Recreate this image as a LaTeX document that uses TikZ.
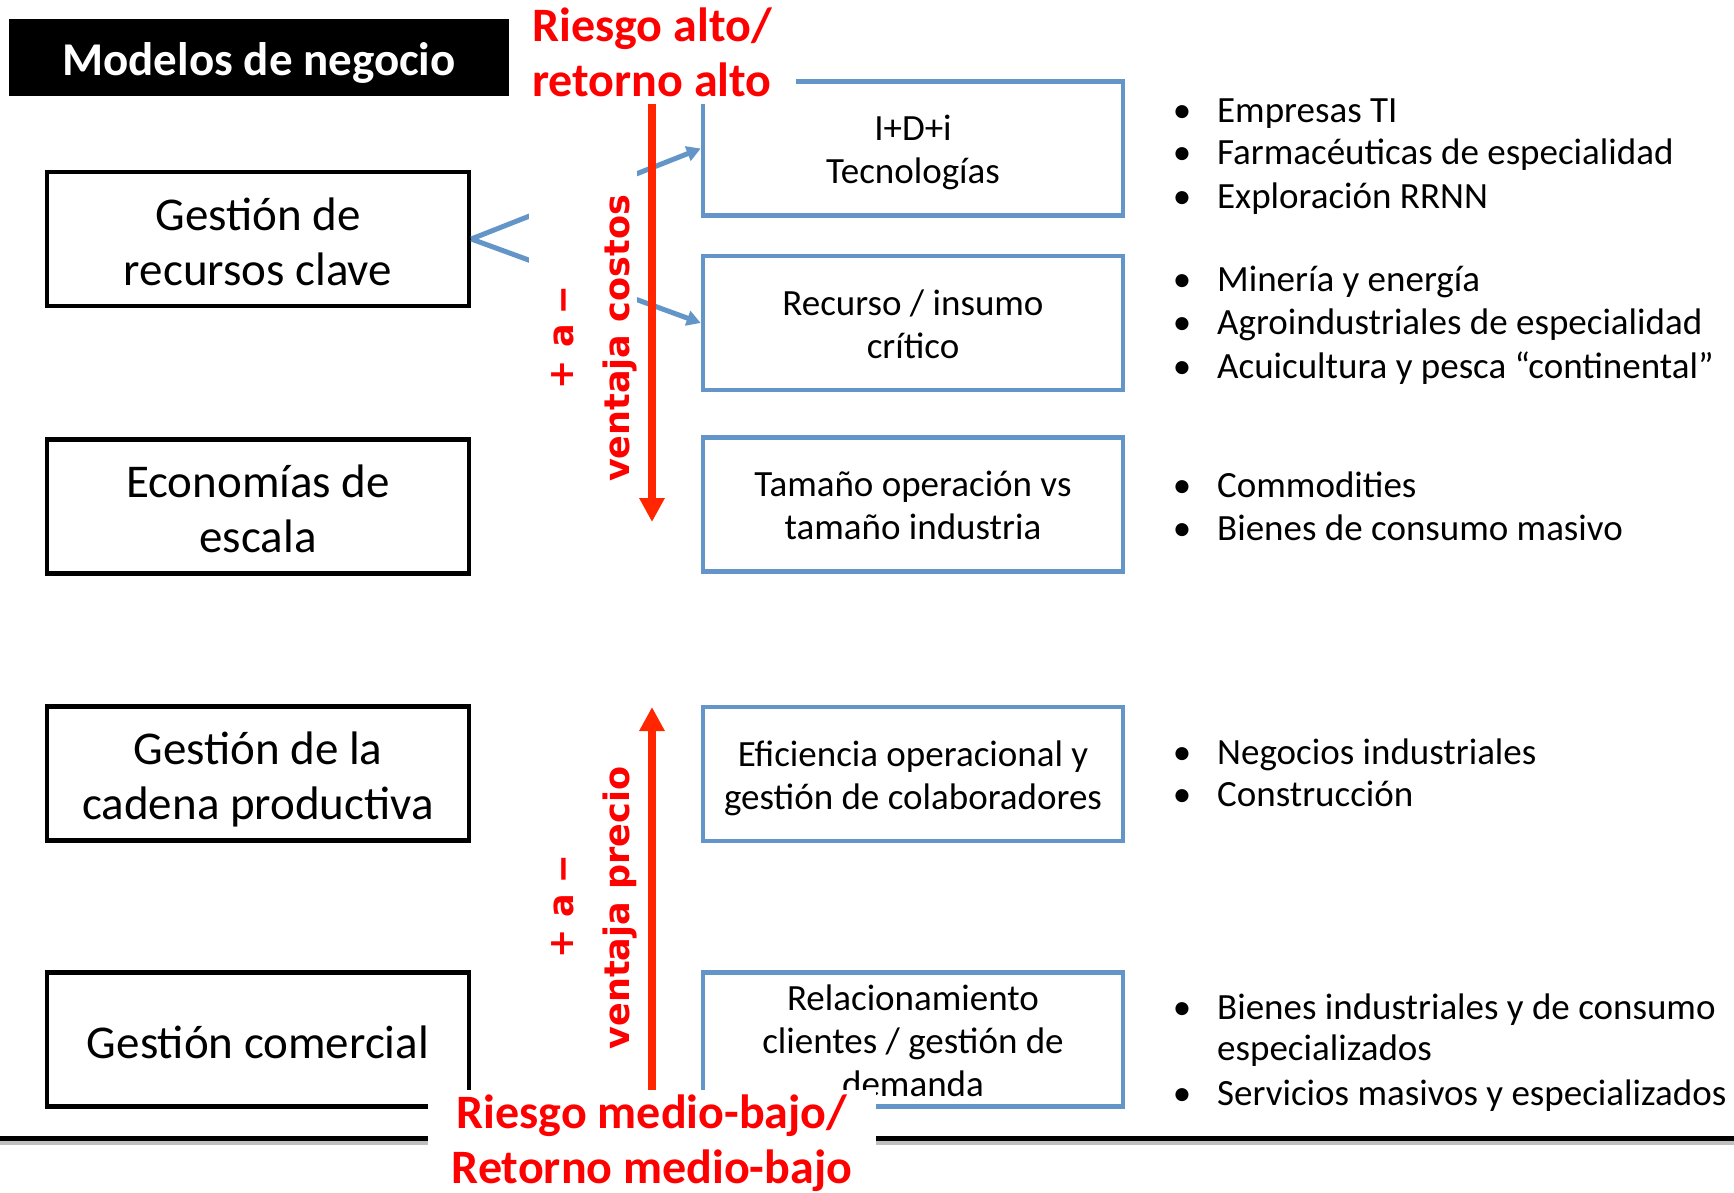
\documentclass[tikz,border=0pt]{standalone}
\usepackage{fontspec}
\usepackage{graphicx}
\setmainfont{Carlito}
\newfontfamily\dejab{DejaVu Sans}
\usetikzlibrary{arrows.meta}
\definecolor{bxblue}{RGB}{99,149,201}
\definecolor{arrred}{RGB}{255,38,0}
\definecolor{lblred}{RGB}{255,0,0}
\newcommand\lst{\rule[-7pt]{0pt}{51pt}}
\newcommand\bst{\rule[-7pt]{0pt}{41pt}}
\newcommand\rst{\rule[-7pt]{0pt}{45pt}}
\newcommand\bu{\llap{•\hspace{26pt}}}
\newcommand\ldash{\scalebox{0.7}[1]{—}}
\begin{document}
\begin{tikzpicture}[x=1pt,y=-1pt,
  lbox/.style={draw=black, line width=4.5pt, minimum width=422pt, minimum height=134pt,
    inner sep=0pt, align=center, font=\fontsize{47}{55}\selectfont},
  bbox/.style={draw=bxblue, line width=4.5pt, minimum width=420pt, minimum height=134pt,
    inner sep=0pt, align=center, font=\fontsize{37}{43}\selectfont},
  bul/.style={anchor=base west, inner sep=0pt, font=\fontsize{37}{43}\selectfont},
  redlbl/.style={fill=white, text=lblred, inner xsep=24pt, inner ysep=0pt, align=center,
    font=\bfseries\fontsize{48}{55}\selectfont},
  rotlbl/.style={fill=white, text=lblred, rotate=90, inner xsep=25pt, inner ysep=0pt,
    align=center, font=\dejab\bfseries\fontsize{35}{56}\selectfont},
  blueconn/.style={draw=bxblue, line width=5pt, -{Triangle[width=15pt,length=14pt]}},
  redarrow/.style={draw=arrred, line width=7.5pt, -{Triangle[width=24pt,length=24pt]}}
]
\useasboundingbox (0,0) rectangle (1734,1192);

% bottom rule
\coordinate (ruleL) at (0,1138);
\coordinate (ruleR) at (1734,1138);
\draw[black!25, line width=4pt] ([yshift=-5pt]ruleL) -- ([yshift=-5pt]ruleR);
\draw[black, line width=5pt] (ruleL) -- (ruleR);

% left boxes
\node[lbox] (L1) at (258,239) {\lst Gestión de\\\lst recursos clave};
\node[lbox] (L2) at (258,506.5) {\lst Economías de\\\lst escala};
\node[lbox] (L3) at (258,773.5) {\lst Gestión de la\\\lst cadena productiva};
\node[lbox] (L4) at (258,1039.5) {\lst Gestión comercial};

% blue boxes
\node[bbox] (B1) at (913,148.5) {\bst I+D+i\\\bst Tecnologías};
\node[bbox] (B2) at (913,323) {\bst Recurso / insumo\\\bst crítico};
\node[bbox] (B3) at (913,504.5) {\bst Tamaño operación vs\\\bst tamaño industria};
\node[bbox] (B4) at (913,774) {\bst Eficiencia operacional y\\\bst gestión de colaboradores};
\node[bbox] (B5) at (913,1039.5) {\bst Relacionamiento\\\bst clientes / gestión de\\\bst demanda};

% connectors from Gestion de recursos clave
\draw[blueconn] (L1.east) -- (B1.west);
\draw[blueconn] (L1.east) -- (B2.west);

% rotated labels
\node[rotlbl] (costos) at (583,338.5) {\rule{0pt}{44pt}+ a \ldash\\ventaja costos};
\node[rotlbl] (precio) at (583,908) {\rule{0pt}{44pt}+ a \ldash\\ventaja precio};

% top / bottom labels
\node[redlbl, anchor=south] (toplbl) at (652,104) {\rst Riesgo alto/\\\rst retorno alto};
\node[redlbl, anchor=north] (botlbl) at (652,1090) {\rst Riesgo medio-bajo/\\\rst Retorno medio-bajo};

% red arrows
\coordinate (tipA) at (652,522);
\coordinate (tipB) at (652,707);
\draw[redarrow] (toplbl.south) -- (tipA);
\draw[redarrow] (botlbl.north) -- (tipB);

% header
\node[fill=black, text=white, minimum width=500pt, minimum height=77pt, inner sep=0pt,
  font=\bfseries\fontsize{47}{55}\selectfont] (hdr) at (259,57.5)
  {\rule[-10pt]{0pt}{55pt}Modelos de negocio};

% bullet lists
\node[bul] (t11) at (1217,122) {\bu Empresas TI};
\node[bul] (t12) at (1217,164) {\bu Farmacéuticas de especialidad};
\node[bul] (t13) at (1217,208) {\bu Exploración RRNN};
\node[bul] (t21) at (1217,291) {\bu Minería y energía};
\node[bul] (t22) at (1217,334) {\bu Agroindustriales de especialidad};
\node[bul] (t23) at (1217,378) {\bu Acuicultura y pesca “continental”};
\node[bul] (t31) at (1217,497) {\bu Commodities};
\node[bul] (t32) at (1217,540) {\bu Bienes de consumo masivo};
\node[bul] (t41) at (1217,764) {\bu Negocios industriales};
\node[bul] (t42) at (1217,806) {\bu Construcción};
\node[bul] (t51) at (1217,1019) {\bu Bienes industriales y de consumo};
\node[bul] (t52) at (1217,1060) {especializados};
\node[bul] (t53) at (1217,1105) {\bu Servicios masivos y especializados};
\end{tikzpicture}
\end{document}
